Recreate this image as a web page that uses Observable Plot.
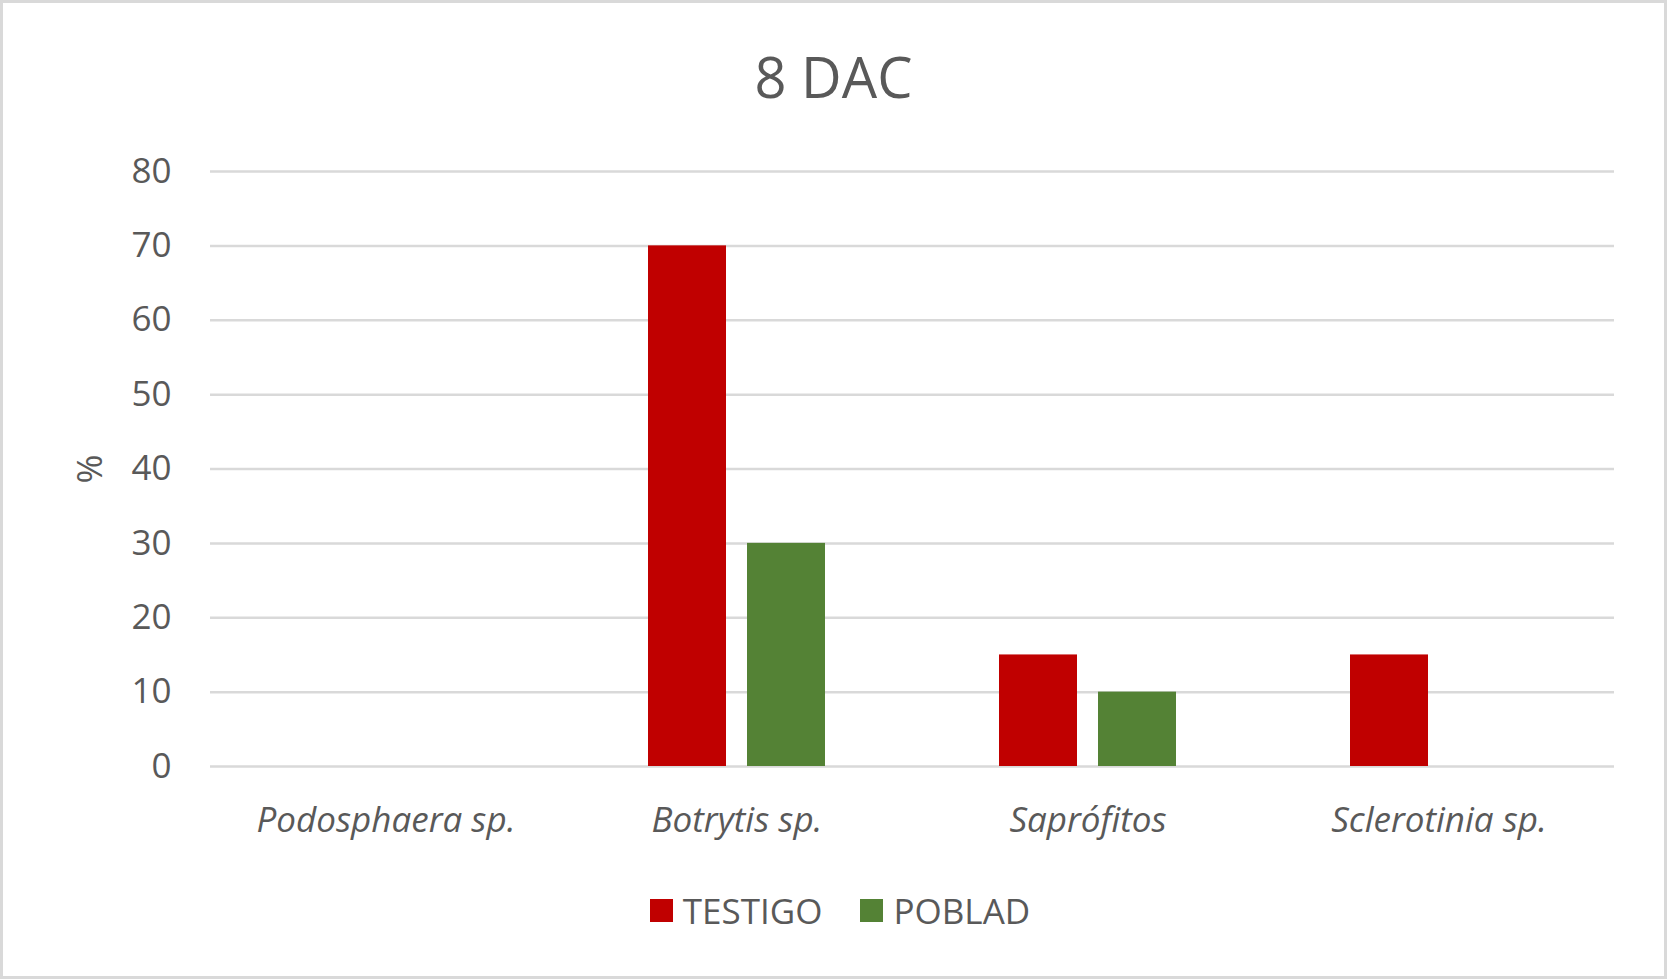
<!DOCTYPE html>
<html>
<head>
<meta charset="utf-8">
<script src="https://cdn.jsdelivr.net/npm/d3@7"></script>
<script src="https://cdn.jsdelivr.net/npm/@observablehq/plot@0.6"></script>
<style>
  html, body { margin: 0; padding: 0; background: #fff; }
  #wrap { position: relative; width: 1667px; height: 979px; background: #fff; font-family: 'Open Sans', sans-serif; color: #595959; overflow: hidden; }
  #frame { position: absolute; left: 0; top: 0; width: 1667px; height: 979px; box-sizing: border-box; border: 3px solid #D9D9D9; pointer-events: none; }
  #chart { position: absolute; left: 0; top: 0; }
  #title { position: absolute; left: 0; top: 48px; width: 1667px; text-align: center; font-size: 56px; line-height: 1; }
  #ylabel { position: absolute; left: 88px; top: 469px; font-size: 35px; line-height: 1; transform: translate(-50%, -50%) rotate(-90deg); white-space: nowrap; }
  #legend { position: absolute; left: 0; top: 893px; width: 1667px; height: 35px; box-sizing: border-box; padding-left: 13px; display: flex; justify-content: center; align-items: center; font-size: 35px; line-height: 1; }
  .item { display: flex; align-items: center; margin: 0 19px; }
  .sw { width: 23px; height: 23px; margin-right: 10px; }
</style>
</head>
<body>
<div id="wrap">
  <div id="chart"></div>
  <div id="title"></div>
  <div id="ylabel"></div>
  <div id="legend"></div>
  <div id="frame"></div>
</div>
<script>
const titleText = "8 DAC";
const yLabel = "%";
const categories = ["Podosphaera sp.", "Botrytis sp.", "Saprófitos", "Sclerotinia sp."];
const series = ["TESTIGO", "POBLAD"];
const testigo = [0, 70, 15, 15];
const poblad = [0, 30, 10, 0];
const yTicks = [0, 10, 20, 30, 40, 50, 60, 70, 80];
const colors = ["#C00000", "#548235"];

const data = categories.flatMap((c, i) => [
  {cat: c, serie: series[0], value: testigo[i]},
  {cat: c, serie: series[1], value: poblad[i]}
]);

const chart = Plot.plot({
  width: 1667,
  height: 979,
  marginTop: 171,
  marginBottom: 213,
  marginLeft: 208,
  marginRight: 52,
  style: {fontFamily: "'Open Sans', sans-serif", fontSize: "35px", color: "#595959", background: "transparent"},
  fx: {domain: categories, padding: 0, label: null},
  x: {domain: series, paddingInner: 0.21, paddingOuter: 0.864, axis: null},
  y: {domain: [0, 80], label: null},
  color: {domain: series, range: colors},
  marks: [
    Plot.ruleY(yTicks, {stroke: "#D9D9D9", strokeWidth: 2.5}),
    Plot.barY(data, {fx: "cat", x: "serie", y: "value", fill: "serie"}),
    Plot.axisY({ticks: yTicks, tickSize: 0, tickPadding: 39, label: null, fontSize: 35}),
    Plot.axisFx({anchor: "bottom", tickSize: 0, tickPadding: 41, label: null, fontSize: 35, fontStyle: "italic"})
  ]
});
document.getElementById("chart").appendChild(chart);

document.getElementById("title").textContent = titleText;
document.getElementById("ylabel").textContent = yLabel;
const legend = document.getElementById("legend");
series.forEach((s, i) => {
  const item = document.createElement("div");
  item.className = "item";
  const sw = document.createElement("div");
  sw.className = "sw";
  sw.style.background = colors[i];
  const t = document.createElement("span");
  t.textContent = s;
  item.appendChild(sw);
  item.appendChild(t);
  legend.appendChild(item);
});
</script>
</body>
</html>
